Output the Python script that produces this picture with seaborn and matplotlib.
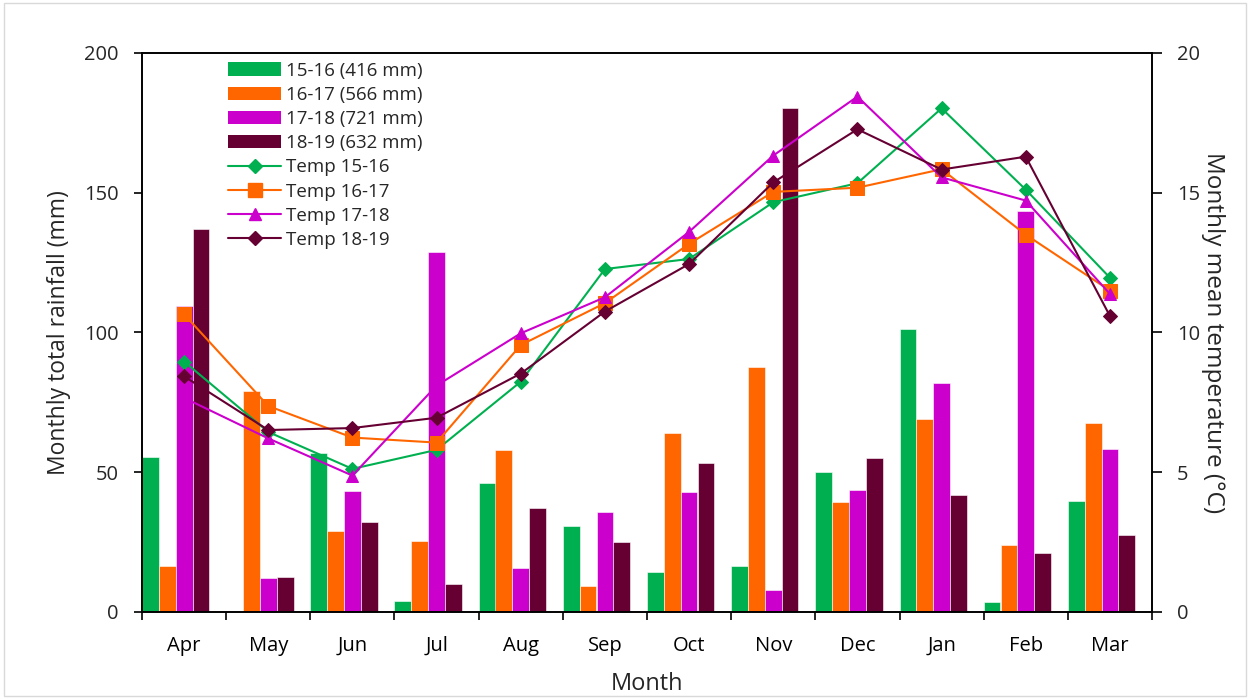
"""
Monthly rainfall (bars) and mean temperature (lines), Apr-Mar, four seasons
"""
import numpy as np
import pandas as pd
import matplotlib
matplotlib.use("Agg")
import matplotlib.pyplot as plt
import seaborn as sns
from matplotlib.lines import Line2D
from matplotlib.patches import Patch, Rectangle

sns.set_theme(style="ticks")
plt.rcParams['font.family'] = ['Open Sans', 'DejaVu Sans']

MONTHS = ["Apr", "May", "Jun", "Jul", "Aug", "Sep",
          "Oct", "Nov", "Dec", "Jan", "Feb", "Mar"]
SEASONS = ["15-16", "16-17", "17-18", "18-19"]
TOTALS = [416, 566, 721, 632]
COLORS = ["#00B050", "#FF6600", "#CC00CC", "#660033"]
MARKERS = ["D", "s", "^", "D"]
MARKER_SIZES = [7, 10, 8.5, 7]

# monthly rainfall (mm)
RAIN_1516 = [55.4, 0.0, 56.8, 4.0, 46.3, 30.6, 14.2, 16.3, 50.0, 101.1, 3.6, 39.7]
RAIN_1617 = [16.3, 79.2, 28.9, 25.5, 58.1, 9.3, 64.0, 87.5, 39.4, 68.9, 23.8, 67.6]
RAIN_1718 = [109.5, 12.0, 43.2, 128.8, 15.6, 35.8, 42.8, 7.9, 43.6, 81.8, 143.5, 58.3]
RAIN_1819 = [137.0, 12.4, 32.3, 10.0, 37.3, 24.9, 53.3, 180.3, 55.0, 41.9, 21.2, 27.7]

# monthly mean temperature (°C)
TEMP_1516 = [8.96, 6.44, 5.12, 5.80, 8.24, 12.27, 12.63, 14.66, 15.34, 18.02, 15.11, 11.96]
TEMP_1617 = [10.65, 7.37, 6.24, 6.06, 9.55, 11.05, 13.17, 15.03, 15.18, 15.84, 13.50, 11.50]
TEMP_1718 = [7.66, 6.21, 4.88, 8.10, 9.97, 11.26, 13.60, 16.33, 18.44, 15.55, 14.72, 11.38]
TEMP_1819 = [8.43, 6.51, 6.58, 6.95, 8.53, 10.75, 12.45, 15.37, 17.27, 15.83, 16.29, 10.59]

rain = [RAIN_1516, RAIN_1617, RAIN_1718, RAIN_1819]
temp = [TEMP_1516, TEMP_1617, TEMP_1718, TEMP_1819]

# long table; a fifth empty level keeps the Excel-style offset of the bars
rows = []
for s, vals in zip(SEASONS, rain):
    for m, v in zip(MONTHS, vals):
        rows.append({"Month": m, "Season": s, "Rain": v})
for m in MONTHS:
    rows.append({"Month": m, "Season": "pad", "Rain": np.nan})
df = pd.DataFrame(rows)

fig = plt.figure(figsize=(12.5, 6.99), dpi=100)
ax = fig.add_axes([0.1136, 0.1245, 0.808, 0.7997])

sns.barplot(data=df, x="Month", y="Rain", hue="Season",
            order=MONTHS, hue_order=SEASONS + ["pad"],
            palette=COLORS + ["white"], width=1.0, dodge=True, saturation=1,
            edgecolor="white", linewidth=0.4, errorbar=None,
            legend=False, ax=ax)

ax2 = ax.twinx()
xs = np.arange(len(MONTHS))
for vals, c, mk, ms in zip(temp, COLORS, MARKERS, MARKER_SIZES):
    sns.lineplot(x=xs, y=vals, ax=ax2, color=c, marker=mk, markersize=ms,
                 markeredgecolor=c, linewidth=1.5, sort=False)

ax.set_xlim(-0.5, 11.5)
ax.set_ylim(0, 200)
ax2.set_ylim(0, 20)
ax.set_yticks([0, 50, 100, 150, 200])
ax2.set_yticks([0, 5, 10, 15, 20])

ax.set_xticks(xs)
ax.set_xticklabels(MONTHS)
ax.set_xticks(np.arange(-0.5, 12, 1), minor=True)
ax.tick_params(axis="x", which="major", length=0, pad=17, labelsize=14.5, colors="black")
ax.tick_params(axis="x", which="minor", length=6, width=1.2, direction="out", color="black")
ax.tick_params(axis="y", length=6, width=1.2, direction="out", pad=11,
               labelsize=14.5, color="black")
ax2.tick_params(axis="y", length=7, width=1.2, direction="out", pad=11,
                labelsize=14.5, color="black")

for a in (ax, ax2):
    for sp in a.spines.values():
        sp.set_visible(True)
        sp.set_color("black")
        sp.set_linewidth(1.2)

ax.set_xlabel("Month", fontsize=17, labelpad=12)
ax.set_ylabel("Monthly total rainfall (mm)", fontsize=16.5, labelpad=9)
ax2.set_ylabel("Monthly mean temperature (°C)", fontsize=17.5, rotation=270, labelpad=18)

handles = [Patch(facecolor=c, edgecolor="none", label=f"{s} ({t} mm)")
           for s, t, c in zip(SEASONS, TOTALS, COLORS)]
handles += [Line2D([0], [0], color=c, marker=mk, markersize=ms, lw=1.5,
                   label=f"Temp {s}")
            for s, c, mk, ms in zip(SEASONS, COLORS, MARKERS, MARKER_SIZES)]
ax2.legend(handles=handles, loc="upper left", bbox_to_anchor=(0.078, 0.998),
           frameon=False, fontsize=13.5, handlelength=2.8, handletextpad=0.3,
           labelspacing=0.33, borderaxespad=0)

fig.patches.append(Rectangle((0.003, 0.004), 0.994, 0.992, transform=fig.transFigure,
                             fill=False, edgecolor="#d9d9d9", linewidth=1))

fig.savefig("out.png", dpi=100)
